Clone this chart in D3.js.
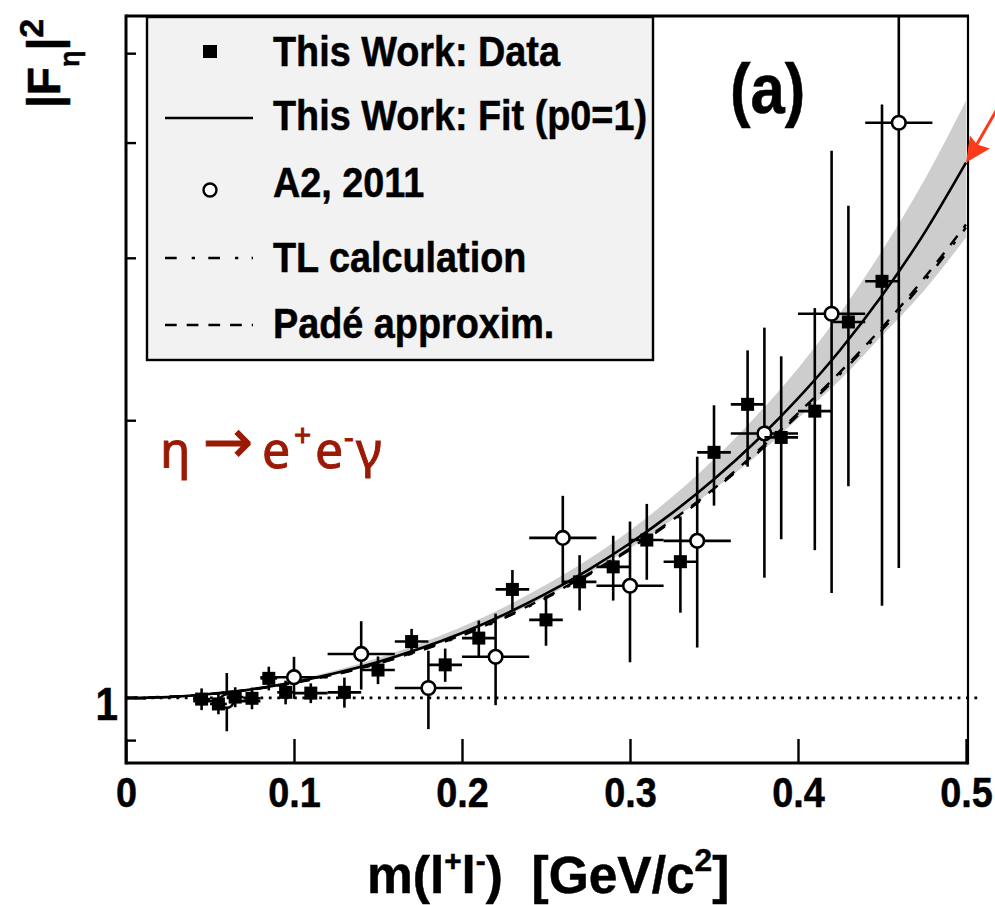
<!DOCTYPE html>
<html lang="en">
<head>
<meta charset="UTF-8" />
<title>eta form factor</title>
<style>
  body { margin: 0; background: #fff; }
  svg { display: block; }
  .lbl { font-family: "Liberation Sans", Arial, Helvetica, sans-serif; font-weight: bold; fill: #000;
         stroke: #000; stroke-width: 0.5px; }
</style>
</head>
<body>
<script src="https://cdn.jsdelivr.net/npm/d3@7"></script>
<script>
// This Work: data (filled squares)
const workMass = [0.045, 0.055, 0.065, 0.075, 0.085, 0.095, 0.11, 0.13, 0.15, 0.17, 0.19, 0.21,
                  0.23, 0.25, 0.27, 0.29, 0.31, 0.33, 0.35, 0.37, 0.39, 0.41, 0.43, 0.45];
const workMassErr = [0.005, 0.005, 0.005, 0.005, 0.005, 0.005, 0.01, 0.01, 0.01, 0.01, 0.01, 0.01,
                     0.01, 0.01, 0.01, 0.01, 0.01, 0.01, 0.01, 0.01, 0.01, 0.01, 0.01, 0.01];
const workValue = [0.997, 0.985, 1.002, 0.999, 1.050, 1.014, 1.012, 1.014, 1.072, 1.151, 1.086, 1.161,
                   1.311, 1.215, 1.336, 1.387, 1.483, 1.405, 1.846, 2.081, 1.916, 2.046, 2.556, 2.829];
const workErr = [0.027, 0.025, 0.025, 0.027, 0.031, 0.030, 0.025, 0.038, 0.037, 0.037, 0.045, 0.052,
                 0.065, 0.076, 0.092, 0.112, 0.14, 0.168, 0.23, 0.30, 0.43, 0.60, 0.86, 1.57];

// A2, 2011 (open circles)
const a2Mass = [0.06, 0.10, 0.14, 0.18, 0.22, 0.26, 0.30, 0.34, 0.38, 0.42, 0.46];
const a2MassErr = [0.02, 0.02, 0.02, 0.02, 0.02, 0.02, 0.02, 0.02, 0.02, 0.02, 0.02];
const a2Value = [0.992, 1.053, 1.116, 1.025, 1.108, 1.491, 1.323, 1.480, 1.935, 2.609, 4.203];
const a2Err = [0.072, 0.055, 0.095, 0.10, 0.126, 0.165, 0.23, 0.346, 0.585, 1.31, 2.82];

// fit (p0=1) and its error band
const fitMass = [0, 0.025, 0.05, 0.075, 0.1, 0.125, 0.15, 0.175, 0.2, 0.225, 0.25, 0.275, 0.3,
                 0.325, 0.35, 0.375, 0.4, 0.425, 0.45, 0.475, 0.5];
const fitValue = [1, 1.002, 1.010, 1.022, 1.040, 1.064, 1.094, 1.131, 1.176, 1.231, 1.297, 1.376, 1.471,
                  1.586, 1.726, 1.898, 2.112, 2.382, 2.730, 3.187, 3.805];
const bandMass = [0, 0.05, 0.1, 0.15, 0.2, 0.25, 0.3, 0.35, 0.375, 0.4, 0.425, 0.45, 0.475, 0.5];
const bandUpper = [1, 1.011, 1.045, 1.105, 1.194, 1.326, 1.519, 1.814, 2.020, 2.276, 2.612, 3.054, 3.637, 4.441];
const bandLower = [1, 1.009, 1.038, 1.090, 1.170, 1.287, 1.453, 1.683, 1.828, 2.009, 2.211, 2.471, 2.764, 3.156];

// theory curves
const theoryMass = [0, 0.05, 0.1, 0.15, 0.2, 0.25, 0.3, 0.35, 0.375, 0.4, 0.425, 0.45, 0.475, 0.5];
const tlValue = [1, 1.0095, 1.038, 1.089, 1.168, 1.283, 1.448, 1.680, 1.837, 2.025, 2.244, 2.505, 2.827, 3.235];
const padeValue = [1, 1.0096, 1.0385, 1.090, 1.170, 1.286, 1.452, 1.686, 1.845, 2.035, 2.255, 2.52, 2.85, 3.26];

const xTicks = [0, 0.1, 0.2, 0.3, 0.4, 0.5];
const yTicks = [0.9, 1, 2, 3, 4, 5];
const yLabelled = [1];
const legendLabels = ["This Work: Data", "This Work: Fit (p0=1)", "A2, 2011", "TL calculation", "Padé approxim."];

const W = 995, H = 905;
const plotLeft = 126, plotRight = 968, plotTop = 16, plotBottom = 763;
const squeeze = 0.88; // the original font is a bit narrower than Liberation Sans

const x = d3.scaleLinear().domain([0, 0.5]).range([plotLeft, 966]);
const y = d3.scaleLog().domain([0.85, 5.5]).range([plotBottom, 15]);

const svg = d3.select("body").append("svg").attr("width", W).attr("height", H);

svg.append("defs").append("clipPath").attr("id", "plot")
  .append("rect").attr("x", plotLeft).attr("y", plotTop)
  .attr("width", plotRight - plotLeft).attr("height", plotBottom - plotTop);

const plot = svg.append("g").attr("clip-path", "url(#plot)");

// error band of the fit
plot.append("path")
  .datum(bandMass.map((m, i) => [m, bandLower[i], bandUpper[i]]))
  .attr("fill", "#cdcdcd")
  .attr("d", d3.area().curve(d3.curveMonotoneX)
    .x(d => x(d[0])).y0(d => y(d[1])).y1(d => y(d[2])));

const line = d3.line().curve(d3.curveMonotoneX).x(d => x(d[0])).y(d => y(d[1]));

// unity reference line (dotted, runs a bit past the frame)
svg.append("line")
  .attr("x1", x(0)).attr("x2", 981).attr("y1", y(1)).attr("y2", y(1))
  .attr("stroke", "#000").attr("stroke-width", 2.8).attr("stroke-dasharray", "2.8 5.6");

const tlDash = "11.7 15 3.3 13.3";
const padeDash = "11.7 10";

plot.append("path").datum(theoryMass.map((m, i) => [m, padeValue[i]]))
  .attr("fill", "none").attr("stroke", "#000").attr("stroke-width", 2.4)
  .attr("stroke-dasharray", padeDash).attr("d", line);
plot.append("path").datum(theoryMass.map((m, i) => [m, tlValue[i]]))
  .attr("fill", "none").attr("stroke", "#000").attr("stroke-width", 2.4)
  .attr("stroke-dasharray", tlDash).attr("d", line);
plot.append("path").datum(fitMass.map((m, i) => [m, fitValue[i]]))
  .attr("fill", "none").attr("stroke", "#000").attr("stroke-width", 2.6).attr("d", line);

const a2 = a2Mass.map((m, i) => ({ m, dm: a2MassErr[i], v: a2Value[i], e: a2Err[i] }));
const work = workMass.map((m, i) => ({ m, dm: workMassErr[i], v: workValue[i], e: workErr[i] }));

function errorBars(g, data) {
  g.selectAll(null).data(data).enter().append("line")
    .attr("x1", d => x(d.m)).attr("x2", d => x(d.m))
    .attr("y1", d => y(d.v - d.e)).attr("y2", d => y(d.v + d.e))
    .attr("stroke", "#000").attr("stroke-width", 2.6);
  g.selectAll(null).data(data).enter().append("line")
    .attr("x1", d => x(d.m - d.dm)).attr("x2", d => x(d.m + d.dm))
    .attr("y1", d => y(d.v)).attr("y2", d => y(d.v))
    .attr("stroke", "#000").attr("stroke-width", 2.6);
}

// A2 points
const a2g = plot.append("g");
errorBars(a2g, a2);
a2g.selectAll("circle").data(a2).enter().append("circle")
  .attr("cx", d => x(d.m)).attr("cy", d => y(d.v)).attr("r", 6.8)
  .attr("fill", "#fff").attr("stroke", "#000").attr("stroke-width", 2.6);

// this work
const wg = plot.append("g");
errorBars(wg, work);
wg.selectAll("rect").data(work).enter().append("rect")
  .attr("x", d => x(d.m) - 6.5).attr("y", d => y(d.v) - 6.5)
  .attr("width", 13).attr("height", 13).attr("fill", "#000");

// axes
const xAxis = svg.append("g").attr("transform", `translate(0,${plotBottom})`)
  .call(d3.axisBottom(x).tickValues(xTicks).tickSize(-24)
    .tickFormat(d => d === 0 ? "0" : d3.format(".1f")(d)));
xAxis.select(".domain").remove();
xAxis.selectAll("line").attr("stroke-width", 2.4);
xAxis.selectAll("text").attr("class", "lbl").attr("font-size", 43)
  .attr("y", 44).attr("dy", null).attr("transform", `scale(${squeeze},1)`);

const yAxis = svg.append("g").attr("transform", `translate(${plotLeft},0)`)
  .call(d3.axisLeft(y).tickValues(yTicks).tickSize(-10)
    .tickFormat(d => yLabelled.includes(d) ? String(d) : ""));
yAxis.select(".domain").remove();
yAxis.selectAll("line").attr("stroke-width", 2.4)
  .attr("x2", d => yLabelled.includes(d) ? 20 : 10);
yAxis.selectAll("text").attr("class", "lbl").attr("font-size", 46)
  .attr("x", -9).attr("dy", "0.48em").attr("transform", `scale(${squeeze},1)`);

// frame
svg.append("line").attr("x1", plotLeft).attr("x2", plotLeft).attr("y1", plotTop - 1.5).attr("y2", plotBottom + 1.5)
  .attr("stroke", "#000").attr("stroke-width", 3);
svg.append("line").attr("x1", plotLeft).attr("x2", plotRight).attr("y1", plotBottom).attr("y2", plotBottom)
  .attr("stroke", "#000").attr("stroke-width", 3);
svg.append("line").attr("x1", plotLeft).attr("x2", plotRight + 1).attr("y1", plotTop).attr("y2", plotTop)
  .attr("stroke", "#000").attr("stroke-width", 3);
svg.append("line").attr("x1", plotRight).attr("x2", plotRight).attr("y1", plotTop).attr("y2", plotBottom + 1.5)
  .attr("stroke", "#000").attr("stroke-width", 2.2);

// legend
const leg = svg.append("g");
leg.append("rect").attr("x", 147).attr("y", 17).attr("width", 506).attr("height", 343)
  .attr("fill", "#f2f2f2").attr("stroke", "#000").attr("stroke-width", 2.4);
const rowY = [52, 118, 190, 258, 325];
const baseY = [66, 130, 197, 272, 338];
leg.append("rect").attr("x", 203).attr("y", rowY[0] - 7).attr("width", 14).attr("height", 13).attr("fill", "#000");
leg.append("line").attr("x1", 165).attr("x2", 253).attr("y1", rowY[1]).attr("y2", rowY[1])
  .attr("stroke", "#000").attr("stroke-width", 2.6);
leg.append("circle").attr("cx", 210).attr("cy", rowY[2]).attr("r", 6.5)
  .attr("fill", "#fff").attr("stroke", "#000").attr("stroke-width", 2.4);
leg.append("line").attr("x1", 165).attr("x2", 253).attr("y1", rowY[3]).attr("y2", rowY[3])
  .attr("stroke", "#000").attr("stroke-width", 2.4).attr("stroke-dasharray", tlDash);
leg.append("line").attr("x1", 165).attr("x2", 253).attr("y1", rowY[4]).attr("y2", rowY[4])
  .attr("stroke", "#000").attr("stroke-width", 2.4).attr("stroke-dasharray", padeDash);
leg.selectAll("text").data(legendLabels).enter().append("text")
  .attr("class", "lbl").attr("font-size", 42)
  .attr("transform", (d, i) => `translate(273,${baseY[i]}) scale(0.9,1)`)
  .text(d => d);

// panel label
svg.append("text").attr("class", "lbl").attr("font-size", 70)
  .attr("transform", `translate(730,113) scale(${squeeze},1)`).text("(a)");

// x axis title
const xt = svg.append("text").attr("class", "lbl").attr("font-size", 52)
  .attr("transform", "translate(367,893) scale(0.99,1)").style("white-space", "pre");
xt.append("tspan").text("m(l");
xt.append("tspan").attr("font-size", 30).attr("dy", -22).text("+");
xt.append("tspan").attr("dy", 22).text("l");
xt.append("tspan").attr("font-size", 30).attr("dy", -22).text("-");
xt.append("tspan").attr("dy", 22).text(")  [GeV/c");
xt.append("tspan").attr("font-size", 32).attr("dy", -22).text("2");
xt.append("tspan").attr("dy", 22).text("]");

// y axis title
const yt = svg.append("text").attr("class", "lbl").attr("font-size", 46)
  .attr("transform", "translate(60,108) rotate(-90)");
yt.append("tspan").text("|F");
yt.append("tspan").attr("font-size", 27).attr("dy", 19).text("η");
yt.append("tspan").attr("dy", -19).text("|");
yt.append("tspan").attr("font-size", 34).attr("dy", -17).text("2");

// reaction label
const rx = svg.append("text").attr("font-family", "'Noto Sans', 'DejaVu Sans', sans-serif")
  .attr("font-size", 50).attr("fill", "#9a1a06").attr("stroke", "#9a1a06").attr("stroke-width", 1)
  .attr("y", 468);
rx.append("tspan").attr("x", 160).text("η");
rx.append("tspan").attr("x", 203).attr("dy", -6).attr("font-size", 60).text("→");
rx.append("tspan").attr("x", 262).attr("dy", 6).text("e");
rx.append("tspan").attr("x", 294).attr("dy", -22).attr("font-size", 30).text("+");
rx.append("tspan").attr("x", 315).attr("dy", 22).text("e");
rx.append("tspan").attr("x", 344).attr("dy", -20).attr("font-size", 30).text("-");
rx.append("tspan").attr("x", 356).attr("dy", 20).text("γ");

// red pointer at the end of the fit
const tip = [x(0.5), y(fitValue[fitValue.length - 1])];
svg.append("line").attr("x1", 1000).attr("y1", 104).attr("x2", tip[0] + 9).attr("y2", tip[1] - 15)
  .attr("stroke", "#ff3a1a").attr("stroke-width", 3);
svg.append("path")
  .attr("d", `M${tip[0]},${tip[1]} L${tip[0] + 4},${tip[1] - 27} L${tip[0] + 11},${tip[1] - 18} L${tip[0] + 24},${tip[1] - 14} Z`)
  .attr("fill", "#ff3a1a");
</script>
</body>
</html>
